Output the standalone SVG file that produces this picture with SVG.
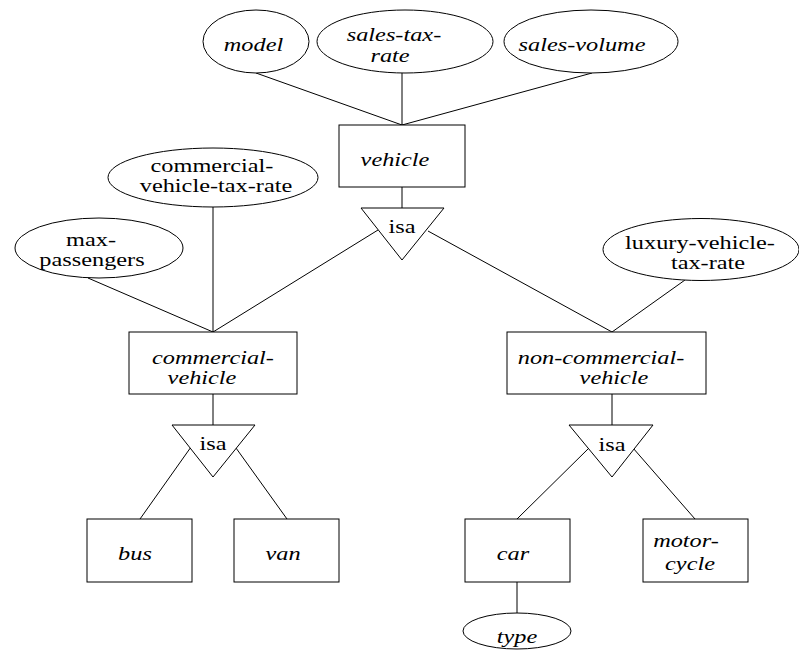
<svg xmlns="http://www.w3.org/2000/svg" width="799" height="651" viewBox="0 0 799 651" font-family="Liberation Serif, Times New Roman, serif">
<style>
.s{fill:#fff;stroke:#000;stroke-width:1}
.c line{stroke:#000;stroke-width:1}
text{font-size:19px;fill:#000;text-anchor:middle}
.i{font-style:italic}
</style>
<rect width="799" height="651" fill="#fff"/>
<g id="connectors" class="c">
<line x1="256" y1="73" x2="402" y2="125"/>
<line x1="402" y1="73" x2="402" y2="125"/>
<line x1="592" y1="73" x2="402" y2="125"/>
<line x1="402" y1="187" x2="402" y2="208"/>
<line x1="378" y1="230" x2="213" y2="332"/>
<line x1="428" y1="231" x2="612" y2="332"/>
<line x1="213" y1="207" x2="213" y2="332"/>
<line x1="88" y1="278" x2="213" y2="332"/>
<line x1="685" y1="280" x2="612" y2="332"/>
<line x1="213" y1="394" x2="213" y2="425"/>
<line x1="191" y1="447" x2="140" y2="519"/>
<line x1="236" y1="448" x2="287" y2="519"/>
<line x1="612" y1="394" x2="612" y2="425"/>
<line x1="590" y1="447" x2="517" y2="519"/>
<line x1="633" y1="448" x2="695" y2="519"/>
<line x1="517" y1="582" x2="517" y2="613"/>
</g>
<g id="model"><ellipse class="s" cx="256" cy="41.5" rx="53" ry="31.5"/><text class="i" transform="translate(253.5 51) scale(1.28 1)">model</text></g>
<g id="sales-tax-rate"><ellipse class="s" cx="405" cy="41.5" rx="88" ry="31.5"/><text class="i" transform="translate(394 41) scale(1.28 1)">sales-tax-</text><text class="i" transform="translate(390 62) scale(1.28 1)">rate</text></g>
<g id="sales-volume"><ellipse class="s" cx="591" cy="41.5" rx="87" ry="31.5"/><text class="i" transform="translate(582 51) scale(1.28 1)">sales-volume</text></g>
<g id="vehicle"><rect class="s" x="339" y="125" width="126" height="62"/><text class="i" transform="translate(395 166) scale(1.28 1)">vehicle</text></g>
<g id="isa1"><polygon class="s" points="361,208 444,208 402,260"/><text transform="translate(402 233) scale(1.28 1)">isa</text></g>
<g id="commercial-vehicle-tax-rate"><ellipse class="s" cx="213" cy="177.5" rx="105" ry="29.5"/><text transform="translate(212 172) scale(1.28 1)">commercial-</text><text transform="translate(216 192) scale(1.28 1)">vehicle-tax-rate</text></g>
<g id="max-passengers"><ellipse class="s" cx="99" cy="248" rx="84" ry="30"/><text transform="translate(91 246) scale(1.28 1)">max-</text><text transform="translate(92 266) scale(1.28 1)">passengers</text></g>
<g id="luxury-vehicle-tax-rate"><ellipse class="s" cx="701" cy="249.5" rx="98" ry="31"/><text transform="translate(700 249) scale(1.28 1)">luxury-vehicle-</text><text transform="translate(708 269) scale(1.28 1)">tax-rate</text></g>
<g id="commercial-vehicle"><rect class="s" x="129" y="332" width="168" height="62"/><text class="i" transform="translate(213 364) scale(1.28 1)">commercial-</text><text class="i" transform="translate(202 384) scale(1.28 1)">vehicle</text></g>
<g id="non-commercial-vehicle"><rect class="s" x="507" y="332" width="199" height="62"/><text class="i" transform="translate(601 364) scale(1.28 1)">non-commercial-</text><text class="i" transform="translate(614 384) scale(1.28 1)">vehicle</text></g>
<g id="isa2"><polygon class="s" points="172,425 255,425 213,477"/><text transform="translate(213 450) scale(1.28 1)">isa</text></g>
<g id="isa3"><polygon class="s" points="569,425 653,425 612,477"/><text transform="translate(612 451) scale(1.28 1)">isa</text></g>
<g id="bus"><rect class="s" x="87" y="519" width="105" height="63"/><text class="i" transform="translate(135 560) scale(1.28 1)">bus</text></g>
<g id="van"><rect class="s" x="234" y="519" width="105" height="63"/><text class="i" transform="translate(283 560) scale(1.28 1)">van</text></g>
<g id="car"><rect class="s" x="465" y="519" width="105" height="63"/><text class="i" transform="translate(513 560) scale(1.28 1)">car</text></g>
<g id="motor-cycle"><rect class="s" x="643" y="519" width="105" height="63"/><text class="i" transform="translate(686 547) scale(1.28 1)">motor-</text><text class="i" transform="translate(690 570) scale(1.28 1)">cycle</text></g>
<g id="type"><ellipse class="s" cx="517" cy="631" rx="54" ry="18"/><text class="i" transform="translate(517 643) scale(1.28 1)">type</text></g>
</svg>
